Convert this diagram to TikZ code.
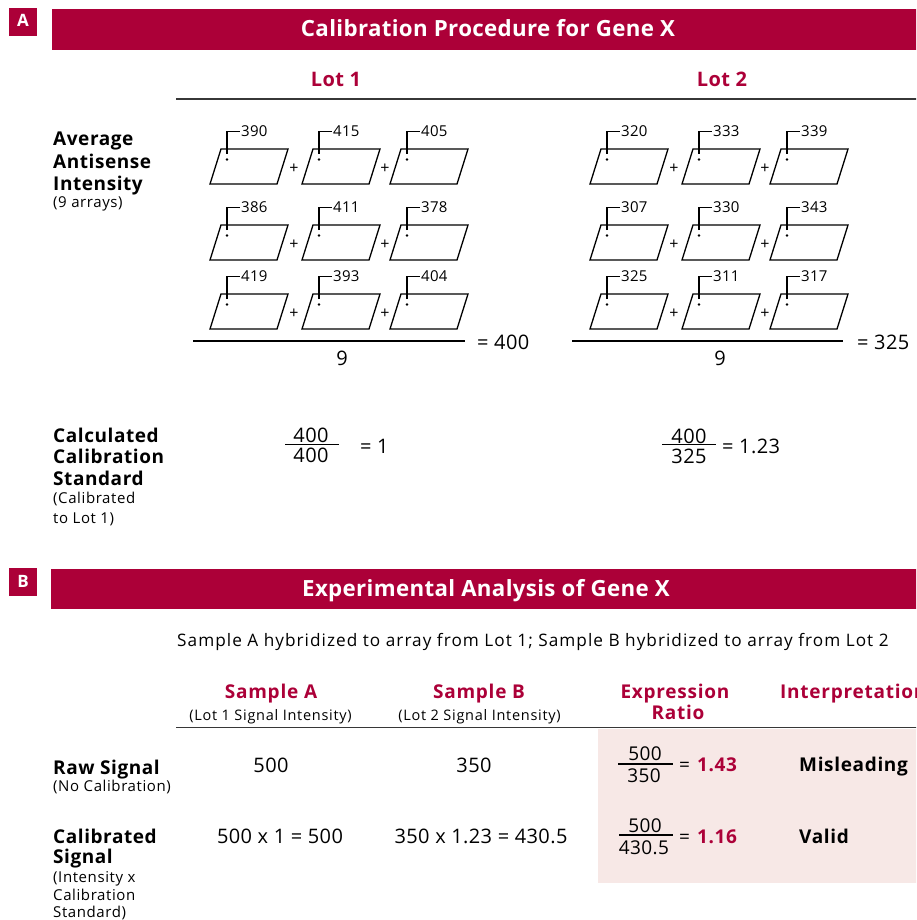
\documentclass[tikz,border=0pt]{standalone}
\usepackage{fontspec}
\setmainfont{Open Sans}
\definecolor{crim}{RGB}{172,0,56}
\definecolor{pinkbg}{RGB}{247,232,230}
\definecolor{rulec}{RGB}{55,55,55}
\newcommand\fsz[1]{\fontsize{#1}{#1}\selectfont}
\newcommand\lsp[1]{\addfontfeature{LetterSpace=#1}}
\tikzset{
  txt/.style={inner sep=0pt, anchor=base west},
  ctxt/.style={inner sep=0pt, anchor=base},
  title/.style={ctxt, text=white, font=\fsz{22.3}\bfseries\lsp{1.5}},
  boxlet/.style={ctxt, text=white, font=\fsz{17}\bfseries},
  lothead/.style={ctxt, text=crim, font=\fsz{20}\bfseries\lsp{2}},
  rowlab/.style={txt, font=\fsz{19}\bfseries\lsp{3}},
  rowsub/.style={txt, font=\fsz{15}\lsp{4}},
  numlbl/.style={txt, font=\fsz{15}\lsp{2}},
  pluslbl/.style={inner sep=0pt, anchor=center, font=\fsz{16}},
  eqtxt/.style={txt, font=\fsz{20}\lsp{2}},
  eqc/.style={ctxt, font=\fsz{20}\lsp{2}},
  colhead/.style={ctxt, text=crim, font=\fsz{19}\bfseries\lsp{4}},
  colsub/.style={ctxt, font=\fsz{14.5}\lsp{5}},
  redval/.style={txt, text=crim, font=\fsz{19}\bfseries\lsp{3}},
  interp/.style={txt, font=\fsz{19}\bfseries\lsp{3.5}},
  arrayshape/.style={draw, line width=1.3pt, line join=miter},
  leader/.style={line width=1.1pt},
  fracbar/.style={line width=1.2pt},
  graybar/.style={draw=rulec, line width=1.6pt},
}
\begin{document}
\begin{tikzpicture}[x=1pt,y=-1pt]
\useasboundingbox (0,0) rectangle (916,920);
\clip (0,0) rectangle (916,920);
\fill[white] (0,0) rectangle (916,920);

% ---------- Section A ----------
\fill[crim] (9,8) rectangle (37,36);
\node[boxlet] (boxA) at (23,27) {A};
\fill[crim] (52,9) rectangle (920,50);
\node[title] (titleA) at (488,37) {Calibration Procedure for Gene X};

\node[lothead] (lot1) at (336,87) {Lot 1};
\node[lothead] (lot2) at (722,87) {Lot 2};
\draw[graybar] (176,99) -- (920,99);

\node[rowlab] (avg1) at (53,146) {Average};
\node[rowlab] (avg2) at (53,168) {Antisense};
\node[rowlab] (avg3) at (53,190) {Intensity};
\node[rowsub] (avg4) at (53,207) {(9 arrays)};

\foreach \L/\r/\c/\v in {1/1/1/390,1/1/2/415,1/1/3/405,1/2/1/386,1/2/2/411,1/2/3/378,1/3/1/419,1/3/2/393,1/3/3/404,2/1/1/320,2/1/2/333,2/1/3/339,2/2/1/307,2/2/2/330,2/2/3/343,2/3/1/325,2/3/2/311,2/3/3/317}{
  \pgfmathsetmacro\X{{221,313,401}[\c-1]+(\L-1)*380}
  \pgfmathsetmacro\T{{149,225,294}[\r-1]}
  \draw[arrayshape] (\X,\T) -- ++(67,0) -- ++(-11,35) -- ++(-67,0) -- cycle;
  \coordinate (dot\L\r\c) at ({\X+6},{\T+10.5});
  \fill (dot\L\r\c) circle[radius=1.3];
  \node[numlbl] (lab\L\r\c) at ({\X+20},{\T-12.5}) {\v};
  \draw[leader] ([yshift=5.5pt]dot\L\r\c) |- ([xshift=-1.5pt]lab\L\r\c.west);
}
\foreach \L/\dx in {1/0,2/380}{
  \foreach \r/\T in {1/149,2/225,3/294}{
    \node[pluslbl] (plusa\L\r) at ({294+\dx},{\T+20}) {+};
    \node[pluslbl] (plusb\L\r) at ({385+\dx},{\T+20}) {+};
  }
}
\draw[fracbar] (193,341) -- (465,341);
\node[eqc] (nine1) at (342,365) {9};
\node[eqtxt] (res1) at (477,349) {= 400};
\draw[fracbar] (572,341) -- (843,341);
\node[eqc] (nine2) at (720,365) {9};
\node[eqtxt] (res2) at (857,349) {= 325};

\node[rowlab] (cal1) at (53,442) {Calculated};
\node[rowlab] (cal2) at (53,463) {Calibration};
\node[rowlab] (cal3) at (53,485) {Standard};
\node[rowsub] (cal4) at (53,503) {(Calibrated};
\node[rowsub] (cal5) at (53,523) {to Lot 1)};

\node[eqc] (n1) at (311,442.5) {400};
\draw[fracbar] (285,444.5) -- (339,444.5);
\node[eqc] (d1) at (311,462.5) {400};
\node[eqtxt] (e1) at (360,453) {= 1};
\node[eqc] (n2) at (689,443) {400};
\draw[fracbar] (662,444.5) -- (716,444.5);
\node[eqc] (d2) at (689,463) {325};
\node[eqtxt] (e2) at (722,453) {= 1.23};

% ---------- Section B ----------
\fill[crim] (9,568) rectangle (37,596);
\node[boxlet] (boxB) at (23,587) {B};
\fill[crim] (51,569) rectangle (920,609);
\node[title] (titleB) at (486,596) {Experimental Analysis of Gene X};

\node[txt, font=\fsz{17.2}\lsp{6}] (sent) at (177,646) {Sample A hybridized to array from Lot 1; Sample B hybridized to array from Lot 2};

\node[colhead] (hA) at (271,698) {Sample A};
\node[colsub] (sA) at (270.5,720) {(Lot 1 Signal Intensity)};
\node[colhead] (hB) at (479,698) {Sample B};
\node[colsub] (sB) at (479.5,720) {(Lot 2 Signal Intensity)};
\node[colhead] (hE) at (675,698) {Expression};
\node[colhead] (hR) at (678,719) {Ratio};
\node[colhead, anchor=base west] (hI) at (780,698) {Interpretation};
\fill[pinkbg] (598,729) rectangle (920,883);
\draw[graybar] (176,727.5) -- (920,727.5);

\node[rowlab] (raw1) at (53,774) {Raw Signal};
\node[rowsub] (raw2) at (53,791) {(No Calibration)};
\node[rowlab] (cs1) at (53,843) {Calibrated};
\node[rowlab] (cs2) at (53,863) {Signal};
\node[rowsub] (cs3) at (53,882) {(Intensity x};
\node[rowsub] (cs4) at (53,900) {Calibration};
\node[rowsub] (cs5) at (53,917) {Standard)};

\node[eqc] (vA1) at (271,772) {500};
\node[eqc] (vB1) at (474,772) {350};
\node[eqc] (vA2) at (280,843) {500 x 1 = 500};
\node[eqc] (vB2) at (481,843) {350 x 1.23 = 430.5};

\node[eqc, font=\fsz{19}\lsp{2}] (rn1) at (645,760) {500};
\draw[fracbar] (618,764) -- (673,764);
\node[eqc, font=\fsz{19}\lsp{2}] (rd1) at (644,782) {350};
\node[txt, font=\fsz{19}] (req1) at (679,771) {=};
\node[redval] (rv1) at (697,771) {1.43};
\node[interp] (int1) at (799,771) {Misleading};

\node[eqc, font=\fsz{19}\lsp{2}] (rn2) at (645,832) {500};
\draw[fracbar] (619,835) -- (673,835);
\node[eqc, font=\fsz{19}\lsp{2}] (rd2) at (644,854) {430.5};
\node[txt, font=\fsz{19}] (req2) at (679,843) {=};
\node[redval] (rv2) at (697,843) {1.16};
\node[interp] (int2) at (799,843) {Valid};
\end{tikzpicture}
\end{document}
